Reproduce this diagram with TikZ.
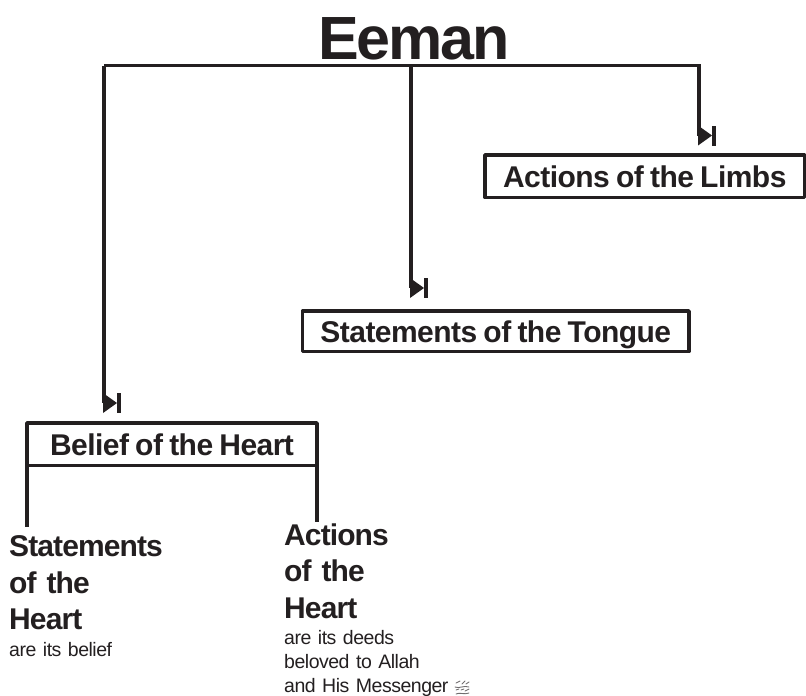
\documentclass[tikz,border=0pt]{standalone}
\usepackage{fontspec}
\setmainfont[WordSpace=0.8]{Liberation Sans}
\usetikzlibrary{positioning,calc}
\definecolor{inkk}{RGB}{35,31,32}
\tikzset{
  rail/.style={draw=inkk,line width=3.8pt,line cap=butt,line join=miter},
  boxlabel/.style={draw=inkk,line width=3.8pt,outer sep=0pt,inner sep=0pt,text=inkk,text height=23pt,text depth=0pt,font=\bfseries\fontsize{30}{34}\selectfont\addfontfeature{LetterSpace=-1.8}},
  headlabel/.style={anchor=north west,align=left,inner sep=0pt,text=inkk,text width=190pt,font=\bfseries\fontsize{30}{36.5}\selectfont\addfontfeature{LetterSpace=-3}},
  sublabel/.style={anchor=north west,align=left,inner sep=0pt,text=inkk,text width=190pt,font=\fontsize{19.5}{24}\selectfont\addfontfeature{LetterSpace=-2.5}},
  tipmark/.pic={
    \fill[inkk] (-1,-10) -- (13,0) -- (-1,10) -- cycle;
    \fill[inkk] (13,-10) rectangle (17,10);
  }
}
\begin{document}
\begin{tikzpicture}[x=1pt,y=-1pt,line cap=round,line join=round]
\useasboundingbox (0,0) rectangle (806,696);
% title and boxes
\node[inner sep=0pt,text=inkk,font=\bfseries\fontsize{61}{61}\selectfont\addfontfeature{LetterSpace=-3.5}] (eeman) at (414,39) {Eeman};
\node[boxlabel,minimum width=319.5pt,minimum height=42.5pt] (limbs) at (644.75,176.25) {Actions of the Limbs\hspace{4.5pt}};
\node[boxlabel,minimum width=386.5pt,minimum height=40.5pt] (tongue) at (495.75,331.25) {Statements of the Tongue};
\node[boxlabel,minimum width=290pt,minimum height=42.5pt] (belief) at (172,444.25) {Belief of the Heart};
% the rail
\coordinate (railA) at (104,65.5);
\coordinate (railB) at (411,65.5);
\coordinate (railC) at (699,65.5);
\coordinate (endA) at (104,403);
\coordinate (endB) at (411,288);
\coordinate (endC) at (699,135.5);
\draw[rail] (railA) -- (railC) -- (endC);
\draw[rail] (railA) -- (endA);
\draw[rail] (railB) -- (endB);
\pic at (endA) {tipmark};
\pic at (endB) {tipmark};
\pic at (endC) {tipmark};
% lower text
\node[headlabel] (statements) at (9,535.5) {Statements\par of the\par Heart};
\node[sublabel] (statementsub) at (9,642) {are its belief};
\node[headlabel] (actions) at (284,523.5) {Actions\par of the\par Heart};
\node[sublabel] (actionsub) at (284,630) {are its deeds\par beloved to Allah\par and His Messenger};
\coordinate (legA) at (belief.south west |- 0,527);
\coordinate (legB) at (belief.south east |- 0,522);
\draw[rail] (belief.south west) -- (legA);
\draw[rail] (belief.south east) -- (legB);
% small honorific sign, no font here has it
\begin{scope}[shift={(455,680)},draw=inkk!65,line width=0.9pt]
\draw (1,3) -- (5,1) (7,4) -- (10,1) (11,4) -- (14,2);
\draw (0,7) .. controls (4,9) and (9,5) .. (14,7);
\draw (1,10) -- (4,9) (6,10) -- (9,9) (10,11) -- (14,9);
\draw (1,14) .. controls (5,12) and (9,15) .. (14,13);
\end{scope}
\end{tikzpicture}
\end{document}
